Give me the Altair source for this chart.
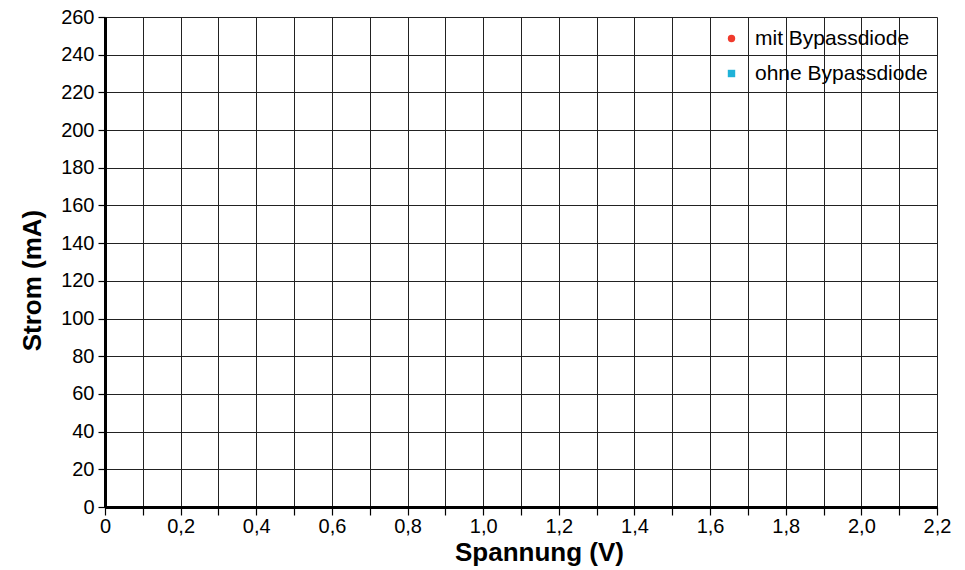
import altair as alt
import pandas as pd

# Series shown in the legend (the reference chart contains no measured points)
series = ["mit Bypassdiode", "ohne Bypassdiode"]
series_colors = ["#f03a2c", "#1fb2d8"]
series_shapes = ["circle", "square"]

spannung = []   # V
strom = []      # mA
serie = []

x_ticks = [0.0, 0.1, 0.2, 0.3, 0.4, 0.5, 0.6, 0.7, 0.8, 0.9, 1.0, 1.1,
           1.2, 1.3, 1.4, 1.5, 1.6, 1.7, 1.8, 1.9, 2.0, 2.1, 2.2]
y_ticks = [0, 20, 40, 60, 80, 100, 120, 140, 160, 180, 200, 220, 240, 260]

df = pd.DataFrame({"Spannung": spannung, "Strom": strom, "Serie": serie})

FONT = "Liberation Sans"

x_label_expr = ("datum.value == 0 ? '0' : (round(datum.value * 10) % 2 == 0 ? "
                "replace(format(datum.value, '.1f'), '.', ',') : '')")

chart = alt.Chart(df).mark_point(filled=True, size=60, opacity=1).encode(
    x=alt.X("Spannung:Q",
            scale=alt.Scale(domain=[0, 2.2], nice=False, zero=False),
            axis=alt.Axis(values=x_ticks, labelExpr=x_label_expr, title="Spannung (V)",
                          labelOverlap=False, labelFlush=False,
                          grid=True, gridColor="#222222", gridWidth=1,
                          domainColor="black", domainWidth=3,
                          tickColor="black", tickWidth=1.2, tickSize=8,
                          labelFont=FONT, labelFontSize=20, labelColor="black", labelPadding=1,
                          titleFont=FONT, titleFontSize=26, titleFontWeight="bold", titleColor="black",
                          titleX=434, titleY=53, titleBaseline="alphabetic", titleAnchor="middle")),
    y=alt.Y("Strom:Q",
            scale=alt.Scale(domain=[0, 260], nice=False, zero=False),
            axis=alt.Axis(values=y_ticks, title="Strom (mA)", format="d",
                          labelOverlap=False, labelFlush=False,
                          grid=True, gridColor="#222222", gridWidth=1,
                          domainColor="black", domainWidth=3,
                          tickColor="black", tickWidth=1.2, tickSize=7,
                          labelFont=FONT, labelFontSize=20, labelColor="black", labelPadding=4,
                          titleFont=FONT, titleFontSize=26, titleFontWeight="bold", titleColor="black",
                          titleAngle=-90, titleX=-73, titleY=263, titleBaseline="middle",
                          titleAlign="center")),
    color=alt.Color("Serie:N",
                    scale=alt.Scale(domain=series, range=series_colors),
                    legend=alt.Legend(title=None, orient="none", legendX=616, legendY=11,
                                      labelFont=FONT, labelFontSize=21, labelColor="black",
                                      labelLimit=400,
                                      labelOffset=13, rowPadding=13, symbolSize=55,
                                      symbolStrokeWidth=0, padding=0)),
    shape=alt.Shape("Serie:N",
                    scale=alt.Scale(domain=series, range=series_shapes),
                    legend=None),
).properties(
    width=832,
    height=490,
    autosize=alt.AutoSizeParams(type="none"),
    padding={"left": 97, "top": 9, "right": 20, "bottom": 62},
).configure_view(strokeWidth=0).configure(background="white")

chart.save("out.html", embed_options={"renderer": "svg", "actions": False})
